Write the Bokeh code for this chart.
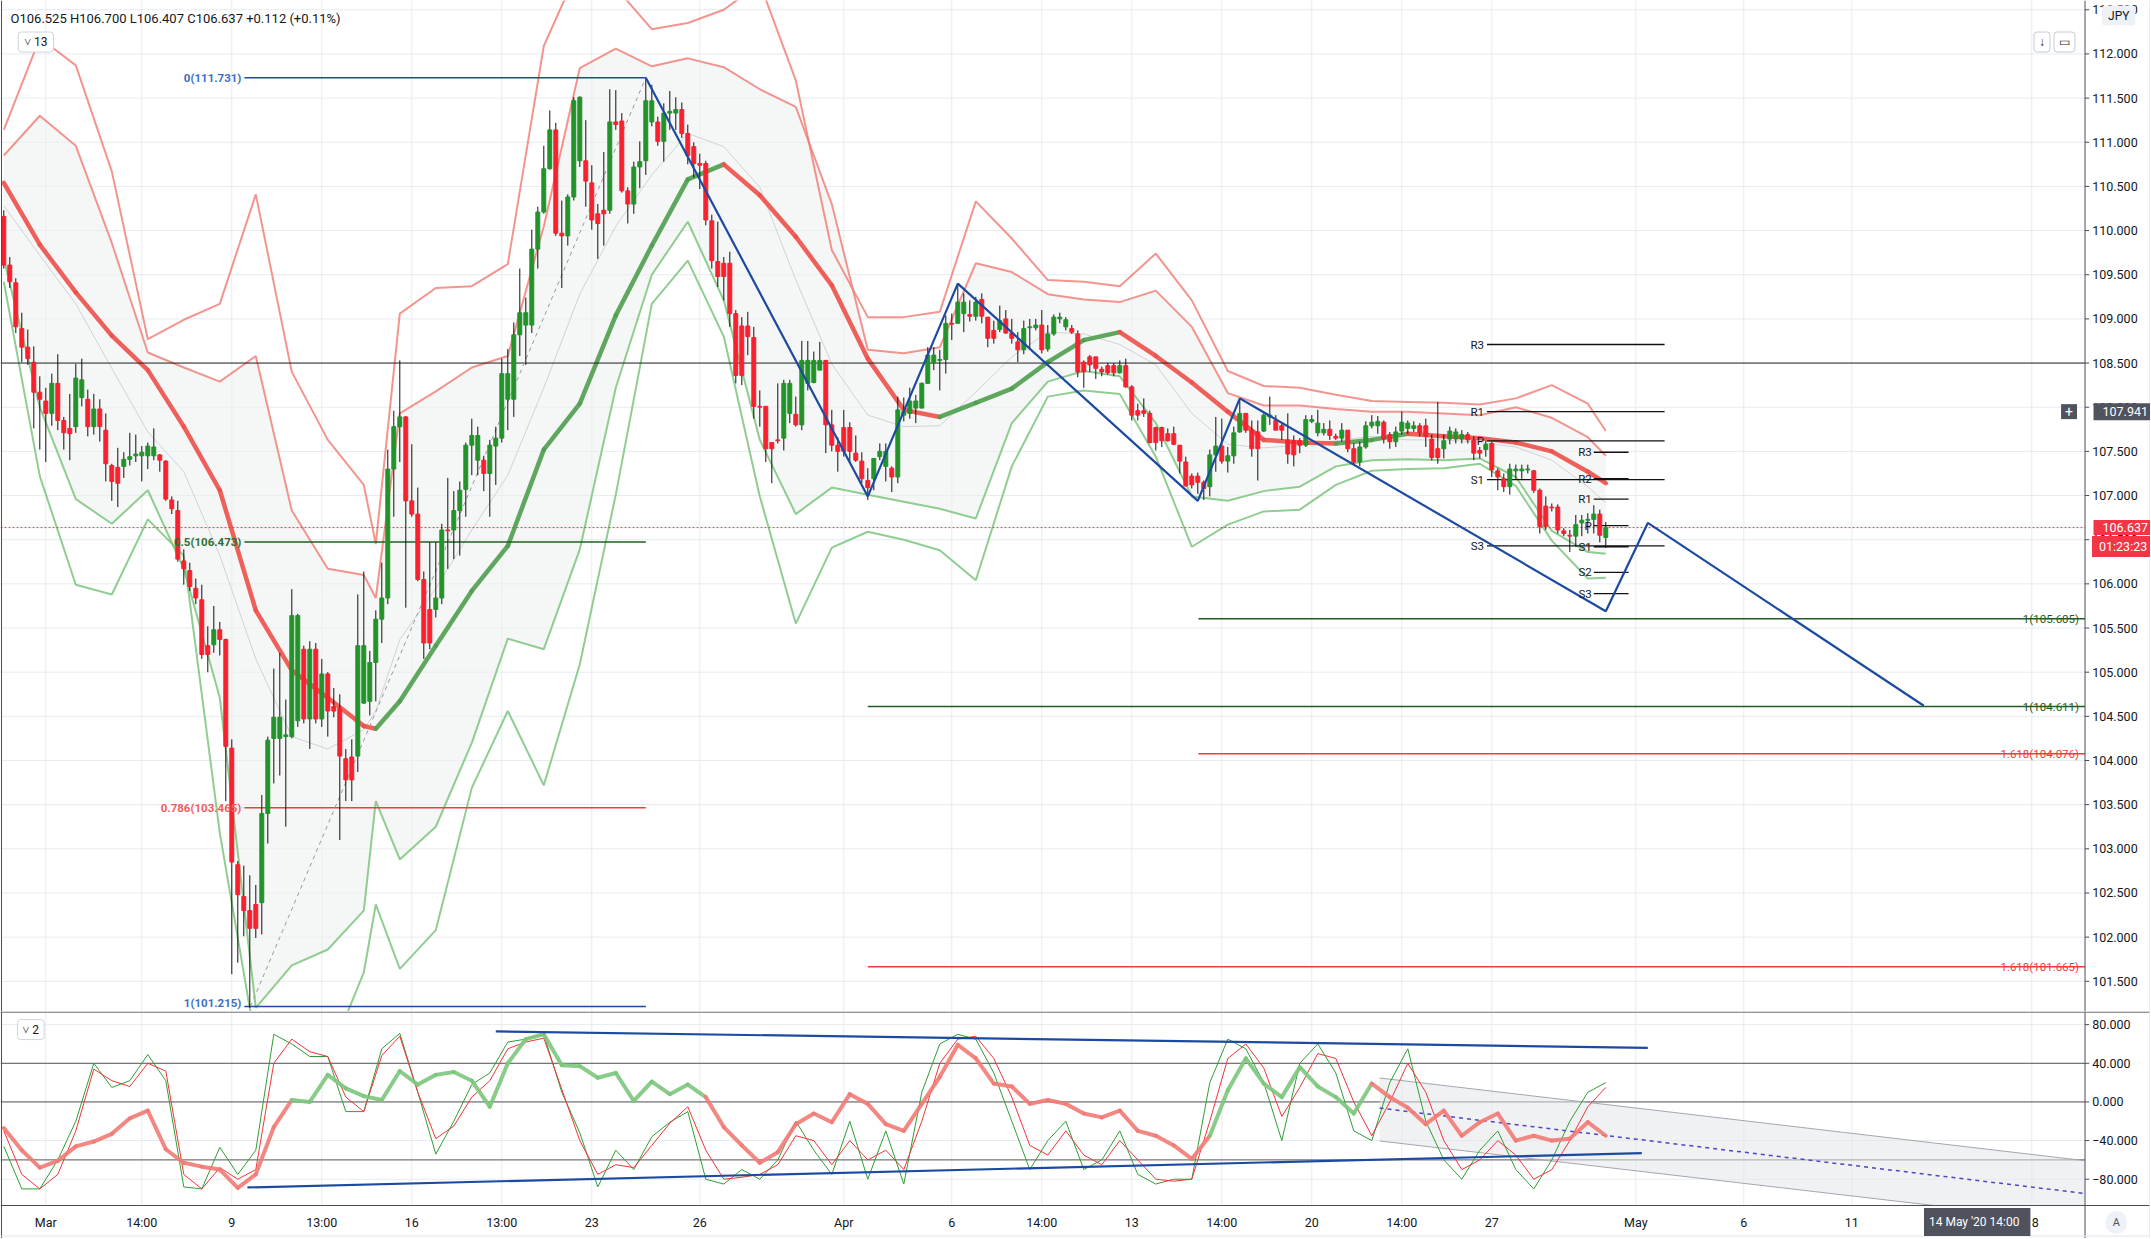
from bokeh.plotting import figure
from bokeh.models import Range1d, Label, ColumnDataSource
from bokeh.layouts import column
from bokeh.embed import file_html
from bokeh.resources import INLINE
from bokeh.core.properties import value

FONT = "Roboto"

# ---------------- price candles (4H USDJPY, bar index 0..267) ----------------
opens = [110.16,109.61,109.41,108.89,108.68,108.51,108.17,108.07,107.93,108.27,107.85,107.76,107.78,108.11,108.09,107.78,107.98,107.74,107.34,107.32,
 107.33,107.41,107.45,107.45,107.45,107.45,107.46,107.39,106.95,106.83,106.26,106.15,105.95,105.82,105.30,105.31,105.48,105.37,104.14,102.82,
 102.46,102.30,102.37,102.39,103.40,104.25,104.25,104.27,104.27,104.45,105.26,104.47,105.26,104.47,104.98,104.61,104.59,104.02,104.04,104.05,
 104.65,104.67,105.11,105.60,105.84,107.30,107.78,107.89,106.94,106.79,106.05,105.71,105.71,105.84,106.61,106.61,106.83,107.07,107.57,107.40,
 107.40,107.25,107.56,107.65,108.09,108.09,108.82,108.93,108.93,109.79,110.21,110.70,111.14,109.97,109.94,110.38,110.79,110.79,110.54,110.19,
 110.23,110.23,111.23,111.24,110.45,110.30,110.72,110.79,111.23,111.23,111.01,111.33,111.33,111.37,111.10,110.95,110.76,110.76,110.11,109.65,
 109.63,109.63,109.06,108.92,108.92,108.79,108.01,108.01,107.60,107.63,107.65,107.93,107.92,107.80,108.27,108.28,108.42,108.53,107.80,107.57,
 107.77,107.77,107.48,107.39,107.17,107.19,107.44,107.33,107.31,107.21,107.91,107.93,107.99,107.99,108.27,108.50,108.53,108.54,108.95,108.95,
 109.06,109.05,109.03,109.22,109.02,108.87,108.88,109.00,108.84,108.74,108.65,108.90,108.90,108.93,108.66,108.83,109.00,108.91,108.89,108.83,
 108.51,108.57,108.57,108.43,108.47,108.47,108.39,108.47,108.23,107.96,107.96,107.93,107.77,107.77,107.70,107.70,107.57,107.38,107.22,107.22,
 107.15,107.10,107.46,107.56,107.39,107.45,107.72,107.93,107.74,107.72,107.73,107.89,107.85,107.79,107.63,107.62,107.62,107.57,107.84,107.71,
 107.71,107.75,107.67,107.65,107.74,107.53,107.38,107.55,107.79,107.79,107.83,107.69,107.61,107.73,107.76,107.76,107.79,107.79,107.64,107.53,
 107.53,107.64,107.64,107.64,107.69,107.63,107.51,107.52,107.59,107.28,107.19,107.10,107.28,107.28,107.29,107.28,107.06,106.88,106.87,106.87,
 106.60,106.55,106.54,106.69,106.72,106.73,106.79,106.525]
highs = [110.23,109.70,109.46,109.07,108.88,108.69,108.35,108.22,108.38,108.60,107.89,108.15,108.49,108.55,108.20,108.15,108.09,107.93,107.36,107.54,
 107.49,107.71,107.69,107.56,107.60,107.76,107.47,107.40,106.99,106.94,106.39,106.24,106.06,105.99,105.52,105.75,105.57,105.38,104.24,102.86,
 102.81,102.70,102.59,103.61,104.27,105.04,105.22,104.69,105.94,105.66,105.30,105.35,105.33,105.15,105.00,104.82,104.75,104.13,104.24,105.88,
 106.14,105.24,105.70,106.24,107.52,107.96,108.53,107.90,107.58,107.09,106.14,106.47,106.47,106.68,107.20,107.05,107.16,107.60,107.87,107.78,
 107.45,107.63,107.78,108.55,108.66,108.96,109.57,109.24,110.01,110.27,110.96,111.36,111.22,110.34,110.41,111.51,111.52,111.25,110.74,110.30,
 110.89,111.60,111.59,111.33,110.49,110.78,111.01,111.73,111.65,111.29,111.44,111.58,111.51,111.45,111.20,111.00,110.87,110.79,110.18,110.10,
 109.70,109.76,109.10,109.02,109.08,108.91,108.19,108.01,107.60,108.27,108.31,108.31,108.12,108.75,108.75,108.63,108.74,108.53,107.97,107.66,
 107.97,107.83,107.68,107.49,107.31,107.42,107.59,107.59,107.33,108.12,108.11,108.22,108.14,108.28,108.68,108.68,108.65,109.04,109.06,109.38,
 109.29,109.21,109.25,109.29,109.02,108.98,109.15,109.10,109.00,108.85,108.98,109.00,109.00,109.10,108.93,109.05,109.07,109.02,108.93,108.87,
 108.53,108.59,108.57,108.46,108.50,108.50,108.53,108.55,108.25,108.04,108.10,107.96,107.78,107.78,107.76,107.78,107.57,107.44,107.25,107.26,
 107.17,107.52,107.89,107.87,107.55,107.78,108.08,107.93,107.85,107.85,107.93,108.12,107.91,107.82,107.93,107.68,107.65,107.91,107.91,107.97,
 107.82,107.85,107.70,107.82,107.74,107.59,107.61,107.84,107.91,107.90,107.85,107.72,107.78,107.95,107.85,107.84,107.82,107.87,107.69,108.06,
 107.69,107.78,107.76,107.74,107.72,107.67,107.55,107.62,107.61,107.31,107.25,107.36,107.35,107.35,107.35,107.29,107.08,106.99,106.91,106.90,
 106.63,106.61,106.78,106.78,106.80,106.89,106.84,106.700]
lows = [109.57,109.35,108.84,108.51,108.48,107.76,107.52,107.38,107.79,107.74,107.52,107.40,107.71,108.01,107.67,107.69,107.61,107.16,106.94,106.87,
 107.20,107.34,107.38,107.16,107.30,107.40,107.27,106.94,106.79,106.25,105.99,105.92,105.77,105.15,105.00,105.22,105.19,103.54,101.58,101.71,
 102.01,101.20,101.99,102.03,103.06,103.74,103.83,103.25,104.25,104.38,104.42,104.13,104.42,104.38,104.27,104.49,103.10,103.54,103.54,103.87,
 104.64,104.51,104.67,105.33,105.77,106.76,107.38,105.73,106.76,106.03,105.15,105.26,105.62,105.77,106.17,106.28,106.32,106.76,107.23,107.23,
 107.05,106.76,107.12,107.60,107.74,107.89,108.58,108.48,108.84,109.57,110.19,110.69,109.94,109.35,109.83,110.34,110.72,110.27,110.01,109.68,
 109.83,110.19,111.14,110.43,110.08,110.19,110.48,110.63,111.18,110.96,110.78,111.14,111.14,111.05,110.75,110.60,110.47,110.06,109.57,109.36,
 109.21,108.91,108.27,108.25,108.59,107.87,107.78,107.38,107.14,107.59,107.51,107.82,107.78,107.74,108.19,108.27,108.42,107.48,107.50,107.27,
 107.44,107.38,107.38,107.14,106.95,107.06,107.40,107.16,107.04,107.14,107.84,107.87,107.82,107.99,108.27,108.42,108.19,108.38,108.76,108.95,
 108.85,108.97,108.98,108.95,108.68,108.72,108.85,108.83,108.72,108.51,108.60,108.65,108.87,108.61,108.63,108.81,108.95,108.87,108.83,108.34,
 108.22,108.40,108.32,108.35,108.37,108.35,108.38,108.22,107.85,107.85,107.89,107.59,107.51,107.55,107.61,107.57,107.25,107.10,107.08,107.02,
 106.95,106.99,107.27,107.36,107.26,107.36,107.71,107.71,107.44,107.17,107.72,107.80,107.74,107.63,107.36,107.33,107.48,107.55,107.82,107.67,
 107.68,107.63,107.63,107.61,107.49,107.35,107.33,107.53,107.76,107.70,107.59,107.53,107.55,107.69,107.70,107.72,107.67,107.55,107.40,107.36,
 107.42,107.58,107.59,107.59,107.59,107.40,107.42,107.44,107.21,107.06,107.04,107.01,107.19,107.19,107.25,107.03,106.57,106.61,106.82,106.57,
 106.54,106.36,106.42,106.54,106.57,106.57,106.47,106.407]
closes = [109.61,109.42,108.91,108.68,108.55,108.17,108.09,107.93,108.27,107.85,107.71,107.70,108.33,108.31,107.78,107.98,107.78,107.36,107.16,107.14,
 107.41,107.44,107.47,107.49,107.56,107.55,107.40,106.96,106.85,106.28,106.17,105.97,105.84,105.20,105.20,105.48,105.37,104.16,102.85,102.48,
 102.30,102.10,102.10,103.40,104.23,104.49,104.49,104.29,105.64,105.64,104.47,105.26,104.47,104.98,104.56,104.56,104.05,103.78,103.78,105.30,
 105.30,105.11,105.60,105.84,107.30,107.78,107.89,106.94,106.79,106.05,105.33,105.33,105.84,106.61,106.60,106.83,107.06,107.57,107.68,107.68,
 107.25,107.57,107.65,108.38,108.38,108.82,109.07,109.07,109.79,110.21,110.70,111.14,109.97,109.94,110.38,111.47,111.51,110.56,110.12,110.08,
 110.19,111.23,111.20,110.45,110.30,110.72,110.78,111.47,111.47,111.01,111.33,111.35,111.37,111.10,110.85,110.76,110.74,110.12,109.66,109.48,
 109.48,109.06,108.36,108.36,108.80,108.01,108.00,107.53,107.53,107.62,108.27,108.27,107.80,108.53,108.53,108.53,108.53,107.80,107.57,107.50,
 107.50,107.50,107.40,107.19,107.09,107.42,107.50,107.50,107.21,107.97,107.95,108.07,108.07,108.27,108.59,108.59,108.54,108.95,108.94,109.19,
 109.19,109.03,109.19,109.03,108.78,108.78,108.98,108.84,108.78,108.65,108.89,108.91,108.93,108.65,108.83,109.02,109.02,108.99,108.85,108.40,
 108.40,108.48,108.44,108.40,108.39,108.39,108.47,108.23,107.91,107.91,107.93,107.60,107.60,107.62,107.62,107.58,107.39,107.11,107.12,107.15,
 107.08,107.46,107.56,107.39,107.45,107.71,107.93,107.74,107.53,107.53,107.91,107.91,107.74,107.74,107.47,107.46,107.57,107.86,107.86,107.82,
 107.75,107.68,107.65,107.74,107.53,107.38,107.55,107.79,107.83,107.84,107.64,107.61,107.72,107.83,107.82,107.79,107.71,107.67,107.43,107.43,
 107.62,107.73,107.72,107.69,107.63,107.48,107.48,107.58,107.29,107.21,107.10,107.30,107.30,107.30,107.30,107.06,106.65,106.65,106.86,106.61,
 106.57,106.54,106.67,106.72,106.73,106.79,106.55,106.637]

# ---------------- envelope indicator (read at sampled bars) ----------------
band_bars = [0,6,12,18,24,30,36,42,48,54,60,62,66,72,78,84,90,96,102,108,114,120,126,132,138,144,150,156,162,168,
             174,180,186,192,198,204,210,216,222,228,234,240,246,252,258,264,267]
upper_outer = [111.14,112.18,111.87,110.67,108.77,108.99,109.17,110.41,108.40,107.63,107.12,106.45,109.06,109.35,109.37,109.62,112.09,113.00,112.75,112.28,
               112.35,112.50,112.80,111.70,109.78,109.02,109.02,109.08,110.33,109.91,109.44,109.42,109.37,109.74,109.21,108.41,108.24,108.22,108.14,108.07,
               108.06,108.05,108.03,108.10,108.25,108.04,107.73]
upper_inner = [110.85,111.30,110.96,109.86,108.62,108.45,108.29,108.58,106.83,106.17,106.10,105.84,107.93,108.18,108.45,108.58,110.05,111.84,112.06,111.86,
               111.95,111.85,111.60,111.40,110.30,108.65,108.61,108.68,109.63,109.53,109.28,109.22,109.19,109.32,108.91,108.16,108.02,108.02,107.98,107.95,
               107.95,107.93,107.91,108.00,107.88,107.66,107.45]
band_mid = [110.28,109.72,109.17,108.44,107.72,107.27,106.32,105.15,104.27,104.13,104.35,104.56,105.37,105.95,106.61,107.23,108.22,109.28,110.05,110.63,
            111.10,110.95,110.49,109.44,108.49,107.91,107.78,107.79,108.17,108.57,108.85,108.83,108.71,108.48,107.93,107.58,107.54,107.57,107.62,107.67,
            107.63,107.63,107.60,107.55,107.40,107.10,106.92]
lower_inner = [109.68,108.00,106.96,106.68,107.06,106.17,104.71,101.20,101.68,101.86,102.30,103.54,102.88,103.25,104.20,105.38,105.26,106.39,108.22,109.50,
               110.10,109.21,107.63,106.79,107.09,107.01,106.93,106.85,106.74,107.82,108.29,108.41,108.35,107.82,106.99,106.94,107.05,107.10,107.33,107.40,
               107.41,107.40,107.42,107.21,106.60,106.36,106.34]
lower_outer = [109.42,107.22,105.99,105.88,106.73,106.32,103.18,100.80,100.30,100.60,101.60,102.37,101.64,102.08,103.69,104.56,103.72,105.09,107.01,109.17,
               109.66,108.80,106.99,105.55,106.41,106.59,106.50,106.38,106.04,107.33,108.12,108.19,108.15,107.44,106.42,106.67,106.82,106.84,107.12,107.28,
               107.30,107.31,107.36,107.11,106.49,106.06,106.07]
trend_ma = [110.54,109.84,109.30,108.81,108.42,107.78,107.06,105.70,105.02,104.71,104.39,104.36,104.67,105.30,105.92,106.43,107.52,108.04,109.04,109.83,
            110.58,110.75,110.40,109.93,109.38,108.55,107.97,107.89,108.05,108.21,108.51,108.76,108.85,108.58,108.28,107.95,107.63,107.60,107.59,107.63,
            107.70,107.67,107.65,107.60,107.50,107.27,107.14]

# ---------------- drawings ----------------
zigzag_bars = [107, 144, 159, 199, 206, 267, 274, 320]
zigzag_prices = [111.731, 106.99, 109.40, 106.94, 108.10, 105.69, 106.69, 104.62]
fib_left_levels = [111.731, 106.473, 103.465, 101.215]
fib_left_texts = ["0(111.731)", "0.5(106.473)", "0.786(103.465)", "1(101.215)"]
fib_left_span = (40.1, 107.0)
fib_right_levels = [105.605, 104.611, 104.076, 101.665]
fib_right_texts = ["1(105.605)", "1(104.611)", "1.618(104.076)", "1.618(101.665)"]
fib_right_start = [199.1, 144.0, 199.1, 144.0]
pivot_week_levels = [108.71, 107.95, 107.62, 107.18, 106.43]
pivot_week_texts = ["R3", "R1", "P", "S1", "S3"]
pivot_week_span = (247.2, 276.8)
pivot_day_levels = [107.49, 107.19, 106.96, 106.66, 106.42, 106.13, 105.89]
pivot_day_texts = ["R3", "R2", "R1", "P", "S1", "S2", "S3"]
pivot_day_span = (265.0, 270.8)
last_price = 106.637
hline_price = 108.5
cursor_price = 107.941

# ---------------- oscillator (read every 3 bars) ----------------
osc_bars = list(range(0, 268, 3))
osc_main = [-27,-50,-68,-61,-46,-41,-33,-17,-9,-49,-63,-67,-70,-89,-75,-26,2,0,28,14,
            6,2,32,18,28,31,22,-5,40,65,70,38,37,25,30,1,21,8,18,5,
            -26,-45,-63,-52,-23,-12,-21,8,-2,-23,-30,-2,26,59,45,19,16,-2,2,-2,
            -12,-16,-9,-30,-35,-45,-59,-35,12,45,19,5,36,16,5,-12,19,5,-6,-23,
            -9,-35,-21,-12,-40,-35,-40,-38,-21,-35]
osc_fast = [-46,-90,-90,-60,-20,40,15,22,49,22,-88,-90,-47,-75,-50,70,60,47,47,-10,
            -10,55,71,10,-54,-20,18,30,62,65,70,10,-32,-88,-50,-70,-36,-21,-10,-80,
            -85,-70,-80,-60,-20,-50,-75,-20,-80,-30,-85,10,60,70,65,30,-20,-70,-40,-20,
            -70,-60,-30,-75,-85,-80,-80,20,65,55,20,-40,40,60,30,-30,-40,20,55,-20,
            -60,-80,-50,-30,-70,-90,-60,-20,10,20]
osc_slow = [-30,-75,-90,-75,-30,34,22,16,40,32,-75,-90,-68,-80,-70,40,65,52,47,5,
            -10,48,68,10,-38,-25,5,22,55,62,66,13,-40,-75,-65,-68,-45,-22,-5,-50,
            -80,-78,-75,-65,-35,-40,-65,-40,-60,-50,-70,-20,40,65,68,45,5,-45,-55,-30,
            -55,-65,-40,-60,-80,-82,-80,-20,45,60,35,-15,15,50,45,0,-35,0,40,10,
            -40,-70,-60,-40,-55,-80,-70,-40,-5,15]
osc_rising_spans = [(47, 116), (201, 229)]
osc_levels = [40, 0, -60]
osc_trend_hi = ([82, 274], [73, 56])
osc_trend_lo = ([40.6, 273], [-88.5, -53])
osc_channel_bars = [229.3, 346.87]
osc_channel_hi = [24.8, -60.8]
osc_channel_lo = [-40.4, -125.4]
osc_channel_mid = [-6.4, -94.8]

time_tick_bars = [7, 23, 38, 53, 68, 83, 98, 116, 140, 158, 173, 188, 203, 218, 233, 248, 272, 290, 308, 338]
time_tick_labels = ["Mar", "14:00", "9", "13:00", "16", "13:00", "23", "26", "Apr", "6", "14:00", "13", "14:00",
                    "20", "14:00", "27", "May", "6", "11", "18"]
price_ticks = [101.5, 102.0, 102.5, 103.0, 103.5, 104.0, 104.5, 105.0, 105.5, 106.0, 106.5, 107.0, 107.5,
               108.0, 108.5, 109.0, 109.5, 110.0, 110.5, 111.0, 111.5, 112.0, 112.5]
osc_ticks = [80, 40, 0, -40, -80]

# ---------------- styling / geometry (6 px per bar, 1:1 with the screen) ----------------
GRID = "#e6ebf1"
AXIS = "#4a4d57"
TXT = "#131722"
CUP, CDN = "#22932b", "#f7212f"
FW = 2150
X0 = -0.55
XR = X0 + FW / 6.0
X1 = 346.87                                  # price-axis line
P_LO, P_HI = 101.158, 112.605
H1 = 1011
O_LO, O_HI, O_BOT = -107.2, 93.6, -141.35    # osc pane bottom, top, time-axis bottom
H2 = 227
T_Y = -124.8
xr = Range1d(X0, XR)
TICK = 0.7

def lab(fig, x, y, text, color=TXT, size="12px", align="left", base="middle", style="normal", **kw):
    fig.add_layout(Label(x=x, y=y, text=text, text_color=color, text_font=FONT, text_font_size=size,
                         text_align=align, text_baseline=base, text_font_style=style, **kw))

def pad(l, r, t, b):
    return dict(left=l, right=r, top=t, bottom=b)

def bare(fig):
    fig.outline_line_color = None
    fig.grid.visible = False
    fig.axis.visible = False

# ================= main price pane =================
p1 = figure(frame_width=FW, frame_height=H1, x_range=xr, y_range=Range1d(P_LO, P_HI),
            output_backend="svg", toolbar_location=None,
            min_border_left=0, min_border_right=0, min_border_top=0, min_border_bottom=0,
            background_fill_color="white", border_fill_color="white")
bare(p1)
p1.segment(x0=[X0] * len(price_ticks), y0=price_ticks, x1=[X1] * len(price_ticks), y1=price_ticks,
           line_color=GRID, line_width=1)
tb = [b for b in time_tick_bars if b < X1]
p1.segment(x0=tb, y0=[P_LO] * len(tb), x1=tb, y1=[P_HI] * len(tb), line_color=GRID, line_width=1)

# envelope fill and lines
p1.varea(x=band_bars, y1=lower_inner, y2=upper_inner, fill_color="#eef0f0", fill_alpha=0.6)
p1.line(band_bars, band_mid, line_color="#cfd3d8", line_width=1)
for ys in (upper_outer, upper_inner):
    p1.line(band_bars, ys, line_color="#f07a72", line_width=2, line_alpha=0.8)
for ys in (lower_inner, lower_outer):
    p1.line(band_bars, ys, line_color="#7cc47c", line_width=2, line_alpha=0.85)
ma_col = ["#4f9f4f" if b > a else "#f0504a" for a, b in zip(trend_ma[:-1], trend_ma[1:])]
p1.segment(x0=band_bars[:-1], y0=trend_ma[:-1], x1=band_bars[1:], y1=trend_ma[1:], line_color=ma_col,
           line_width=4.5, line_alpha=0.9, line_cap="round")

# horizontal references
p1.segment(x0=[X0], y0=[hline_price], x1=[X1], y1=[hline_price], line_color="#222222", line_width=1)
p1.segment(x0=[X0], y0=[last_price], x1=[X1], y1=[last_price], line_color="#f23645", line_width=1, line_dash="2 2")

# left fibonacci
fib_left_colors = ["#1c4aa0", "#1f5e20", "#f23b3b", "#1c4aa0"]
fib_left_tcolors = ["#3d6fc4", "#2f6f2f", "#f25c5c", "#3d6fc4"]
fib_left_yoff = [0, 0, 0, 3]
for lv, tx, c, tc, yo in zip(fib_left_levels, fib_left_texts, fib_left_colors, fib_left_tcolors, fib_left_yoff):
    p1.segment(x0=[fib_left_span[0]], y0=[lv], x1=[fib_left_span[1]], y1=[lv], line_color=c, line_width=1.5)
    lab(p1, fib_left_span[0], lv, tx, color=tc, size="11.5px", align="right", style="bold", x_offset=-3, y_offset=yo)
p1.line([fib_left_span[0] + 1, fib_left_span[1]], [fib_left_levels[3], fib_left_levels[0]],
        line_color="#9a9a9a", line_width=1, line_dash="4 4")

# right fibonacci
fib_right_colors = ["#1f5e20", "#1f5e20", "#f23b3b", "#f23b3b"]
for lv, tx, st, c in zip(fib_right_levels, fib_right_texts, fib_right_start, fib_right_colors):
    p1.segment(x0=[st], y0=[lv], x1=[X1], y1=[lv], line_color=c, line_width=1.5)
    lab(p1, X1, lv, tx, color=c, size="11.5px", align="right", x_offset=-6)

# pivots
for lv, tx in zip(pivot_week_levels, pivot_week_texts):
    p1.segment(x0=[pivot_week_span[0]], y0=[lv], x1=[pivot_week_span[1]], y1=[lv], line_color="#111111", line_width=1.3)
    lab(p1, pivot_week_span[0], lv, tx, size="11.5px", align="right", x_offset=-3)
for lv, tx in zip(pivot_day_levels, pivot_day_texts):
    p1.segment(x0=[pivot_day_span[0]], y0=[lv], x1=[pivot_day_span[1]], y1=[lv], line_color="#111111", line_width=1.3)
    lab(p1, pivot_day_span[0], lv, tx, size="11.5px", align="right", x_offset=-2)

# candles
n = len(closes)
src = ColumnDataSource(dict(
    x=list(range(n)), h=highs, l=lows,
    top=[max(o, c) for o, c in zip(opens, closes)],
    bot=[min(o, c) for o, c in zip(opens, closes)],
    col=[CUP if c >= o else CDN for o, c in zip(opens, closes)]))
p1.segment(x0="x", y0="h", x1="x", y1="l", source=src, line_color="#111111", line_width=1)
p1.vbar(x="x", width=0.66, top="top", bottom="bot", fill_color="col", line_color="col", line_width=1, source=src)

# zigzag
p1.line(zigzag_bars, zigzag_prices, line_color="#1c4aa0", line_width=2.2)

# price axis (drawn)
p1.segment(x0=[X1], y0=[P_LO], x1=[X1], y1=[P_HI], line_color=AXIS, line_width=1)
p1.segment(x0=[X1] * len(price_ticks), y0=price_ticks, x1=[X1 + TICK] * len(price_ticks), y1=price_ticks,
           line_color=AXIS, line_width=1)
p1.text(x=[X1 + 1.2] * len(price_ticks), y=price_ticks, text=[f"{t:.3f}" for t in price_ticks],
        text_font=value(FONT), text_font_size="12.5px", text_color=TXT, text_baseline="middle", text_align="left")
p1.segment(x0=[X0 + 0.17], y0=[P_LO], x1=[X0 + 0.17], y1=[P_HI], line_color=AXIS, line_width=1)
p1.segment(x0=[XR - 0.1], y0=[P_LO], x1=[XR - 0.1], y1=[P_HI], line_color="#e0e3eb", line_width=1)

# header & ui
lab(p1, 1.12, 112.40, "O106.525  H106.700  L106.407  C106.637  +0.112 (+0.11%)", size="13px")
lab(p1, 2.4, 112.135, "˅ 13", size="12px", border_line_color="#d1d4dc", background_fill_color="white",
    padding=pad(6, 6, 3, 3), border_radius=3)
lab(p1, X1, 112.135, "↓", size="12px", align="right", x_offset=-35, border_line_color="#c9ccd3",
    background_fill_color="white", padding=pad(5, 5, 3, 3), border_radius=3)
lab(p1, X1, 112.135, "▭", size="12px", align="right", x_offset=-10, border_line_color="#c9ccd3",
    background_fill_color="white", padding=pad(5, 5, 3, 3), border_radius=3)
lab(p1, X1, 112.435, "JPY", size="12px", x_offset=17, background_fill_color="#eef1f7",
    padding=pad(6, 6, 3, 3), border_radius=3)
lab(p1, X1, 107.95, "107.941", color="white", size="12.5px", x_offset=8.5, background_fill_color="#50535e",
    padding=pad(9, 9, 4, 4))
lab(p1, X1, 107.95, "+", color="white", size="14px", align="right", x_offset=-8, background_fill_color="#50535e",
    padding=pad(4, 4, 2, 2))
lab(p1, X1, last_price, "106.637", color="white", size="12.5px", x_offset=8.5, background_fill_color="#f23645",
    padding=pad(9, 9, 3, 3))
lab(p1, X1, 106.423, "01:23:23", color="white", size="12.5px", x_offset=7, background_fill_color="#f23645",
    padding=pad(7, 9, 3, 3))

# ================= oscillator pane + time axis =================
p2 = figure(frame_width=FW, frame_height=H2, x_range=xr, y_range=Range1d(O_BOT, O_HI),
            output_backend="svg", toolbar_location=None,
            min_border_left=0, min_border_right=0, min_border_top=0, min_border_bottom=0,
            background_fill_color="white", border_fill_color="white")
bare(p2)
p2.segment(x0=[X0] * len(osc_ticks), y0=osc_ticks, x1=[X1] * len(osc_ticks), y1=osc_ticks,
           line_color=GRID, line_width=1)
p2.segment(x0=tb, y0=[O_LO] * len(tb), x1=tb, y1=[O_HI] * len(tb), line_color=GRID, line_width=1)
p2.segment(x0=[X0] * len(osc_levels), y0=osc_levels, x1=[X1] * len(osc_levels), y1=osc_levels,
           line_color="#555555", line_width=1)

# channel
p2.patch(x=osc_channel_bars + osc_channel_bars[::-1], y=osc_channel_hi + osc_channel_lo[::-1],
         fill_color="#e4e6ea", fill_alpha=0.55, line_color=None)
p2.line(osc_channel_bars, osc_channel_hi, line_color="#a3a7ae", line_width=1)
p2.line(osc_channel_bars, osc_channel_lo, line_color="#a3a7ae", line_width=1)
p2.line(osc_channel_bars, osc_channel_mid, line_color="#4b47c8", line_width=1.5, line_dash="4 4")

p2.line(osc_bars, osc_fast, line_color="#2f9e34", line_width=1)
p2.line(osc_bars, osc_slow, line_color="#f0353a", line_width=1)

def rising(b):
    return any(a <= b < e for a, e in osc_rising_spans)
osc_col = ["#7cc77c" if rising((a + b) / 2) else "#f27a74" for a, b in zip(osc_bars[:-1], osc_bars[1:])]
p2.segment(x0=osc_bars[:-1], y0=osc_main[:-1], x1=osc_bars[1:], y1=osc_main[1:], line_color=osc_col,
           line_width=4, line_alpha=0.9, line_cap="round")

p2.line(osc_trend_hi[0], osc_trend_hi[1], line_color="#1c4aa0", line_width=2.2)
p2.line(osc_trend_lo[0], osc_trend_lo[1], line_color="#1c4aa0", line_width=2.2)

# time-axis strip, borders, axes
p2.varea(x=[X0, XR], y1=[O_BOT, O_BOT], y2=[O_LO, O_LO], fill_color="white")
p2.segment(x0=[X0], y0=[O_HI - 0.6], x1=[XR], y1=[O_HI - 0.6], line_color=AXIS, line_width=1)
p2.segment(x0=[X0], y0=[O_LO], x1=[XR], y1=[O_LO], line_color=AXIS, line_width=1)
p2.segment(x0=[X1], y0=[O_BOT], x1=[X1], y1=[O_HI], line_color=AXIS, line_width=1)
p2.segment(x0=[X0 + 0.17], y0=[O_BOT], x1=[X0 + 0.17], y1=[O_HI], line_color=AXIS, line_width=1)
p2.segment(x0=[XR - 0.1], y0=[O_BOT], x1=[XR - 0.1], y1=[O_HI], line_color="#e0e3eb", line_width=1)
p2.segment(x0=[X0], y0=[O_BOT + 2.5], x1=[XR], y1=[O_BOT + 2.5], line_color="#e0e3eb", line_width=1)
p2.segment(x0=[X1] * len(osc_ticks), y0=osc_ticks, x1=[X1 + TICK] * len(osc_ticks), y1=osc_ticks,
           line_color=AXIS, line_width=1)
p2.text(x=[X1 + 1.2] * len(osc_ticks), y=osc_ticks,
        text=[(f"{t:.3f}" if t >= 0 else f"\u2212{abs(t):.3f}") for t in osc_ticks],
        text_font=value(FONT), text_font_size="12.5px", text_color=TXT, text_baseline="middle", text_align="left")
p2.text(x=time_tick_bars, y=[T_Y] * len(time_tick_bars), text=time_tick_labels,
        text_font=value(FONT), text_font_size="12.5px", text_color=TXT, text_baseline="middle", text_align="center")

lab(p2, 2.3, 74.9, "˅ 2", size="12px", border_line_color="#d1d4dc", background_fill_color="white",
    padding=pad(5, 5, 3, 3), border_radius=3)
lab(p2, 328.9, T_Y + 0.6, "14 May '20   14:00", color="white", size="12px", align="center",
    background_fill_color="#50535e", padding=pad(5, 5, 7, 7))
lab(p2, 352.1, T_Y, "A", color="#50535e", size="11px", align="center",
    background_fill_color="#eef1f7", padding=pad(7, 7, 5, 5), border_radius=11)

layout = column(p1, p2, spacing=0)
open("out.html", "w").write(file_html(layout, INLINE))
